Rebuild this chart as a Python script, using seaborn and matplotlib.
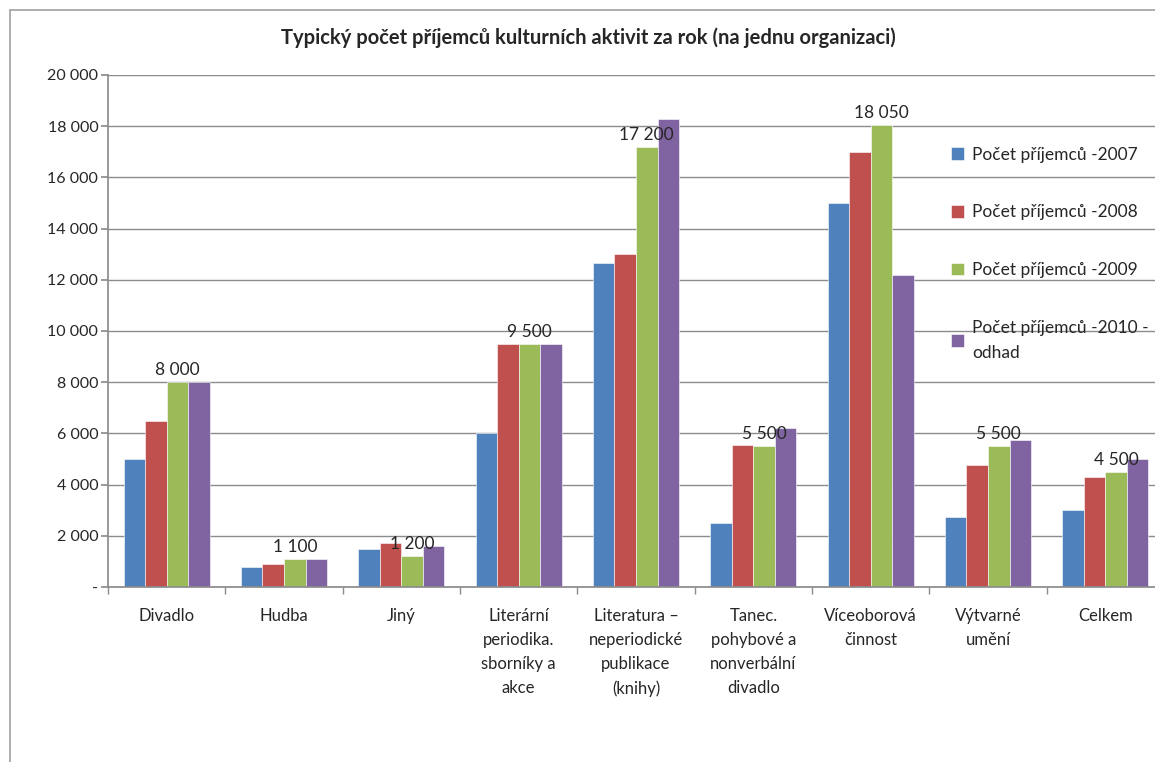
import pandas as pd
import matplotlib.pyplot as plt
import seaborn as sns
from matplotlib.ticker import FuncFormatter, FixedLocator
from matplotlib.patches import Rectangle

# Data
categories = ['Divadlo', 'Hudba', 'Jiný', 'Literární\nperiodika.\nsborníky a\nakce',
              'Literatura –\nneperiodické\npublikace\n(knihy)', 'Tanec.\npohybové a\nnonverbální\ndivadlo',
              'Víceoborová\nčinnost', 'Výtvarné\numění', 'Celkem']
series = ['Počet příjemců -2007', 'Počet příjemců -2008', 'Počet příjemců -2009',
          'Počet příjemců -2010 -\nodhad']
v2007 = [5000, 800, 1500, 6000, 12650, 2500, 15000, 2750, 3000]
v2008 = [6500, 900, 1700, 9500, 13000, 5550, 17000, 4750, 4300]
v2009 = [8000, 1100, 1200, 9500, 17200, 5500, 18050, 5500, 4500]
v2010 = [8000, 1100, 1600, 9500, 18300, 6200, 12200, 5750, 5000]
colors = ['#4F81BD', '#C0504D', '#9BBB59', '#8064A2']

rows = []
for s, vals in zip(series, [v2007, v2008, v2009, v2010]):
    for c, v in zip(categories, vals):
        rows.append({'Kategorie': c, 'Série': s, 'Počet': v})
df = pd.DataFrame(rows)

sns.set_theme(style='white')
plt.rcParams['font.family'] = ['Lato', 'DejaVu Sans']

fig = plt.figure(figsize=(11.55, 7.62), dpi=100)
# chart frame like the spreadsheet chart area
fig.patches.append(Rectangle((10 / 1155, -0.1), 1.2, (752 / 762) + 0.1, transform=fig.transFigure,
                             fill=False, edgecolor='#a0a0a0', linewidth=1.2))
ax = fig.add_axes([108 / 1155, 175 / 762, (1164 - 108) / 1155, (587 - 75) / 762])

sns.barplot(data=df, x='Kategorie', y='Počet', hue='Série', palette=colors, saturation=1,
            width=0.735, gap=0, edgecolor='white', linewidth=0.4, ax=ax)

ax.set_ylim(0, 20000)
ax.set_xlim(-0.5, len(categories) - 0.5)
ax.set_yticks(range(0, 20001, 2000))
ax.yaxis.set_major_formatter(FuncFormatter(lambda v, p: '-' if v == 0 else f'{int(v):,}'.replace(',', ' ')))
ax.grid(axis='y', color='#8c8c8c', linewidth=1)
ax.set_axisbelow(True)
for side in ['top', 'right']:
    ax.spines[side].set_visible(False)
ax.spines['left'].set_color('#8c8c8c')
ax.spines['bottom'].set_color('#8c8c8c')

# category labels at centers, tick marks at boundaries
ax.set_xticks(range(len(categories)))
ax.set_xticklabels(categories, fontsize=12, linespacing=1.62, va='top')
ax.tick_params(axis='x', which='major', length=0, pad=15)
ax.xaxis.set_minor_locator(FixedLocator([i - 0.5 for i in range(len(categories) + 1)]))
ax.tick_params(axis='x', which='minor', length=5, color='#8c8c8c', direction='out', bottom=True)
ax.tick_params(axis='y', length=5, color='#8c8c8c', direction='out', left=True, labelsize=11.5, pad=2)
ax.set_xlabel('')
ax.set_ylabel('')

# data labels on 2009 series
ax.bar_label(ax.containers[2], labels=[f'{v:,}'.replace(',', ' ') for v in v2009],
             fontsize=12.5, padding=3)

fig.text(588 / 1155, 1 - 38 / 762, 'Typický počet příjemců kulturních aktivit za rok (na jednu organizaci)',
         ha='center', va='center', fontsize=14.5, fontweight='bold')

leg = ax.legend(loc='upper left', bbox_to_anchor=(935 / 1155, 1 - 131 / 762),
                bbox_transform=fig.transFigure, frameon=False, fontsize=12.5,
                handlelength=0.75, handleheight=0.75, handletextpad=0.5, labelspacing=2.4)
leg.get_texts()[3].set_linespacing(1.7)

fig.savefig('out.png', dpi=100)
